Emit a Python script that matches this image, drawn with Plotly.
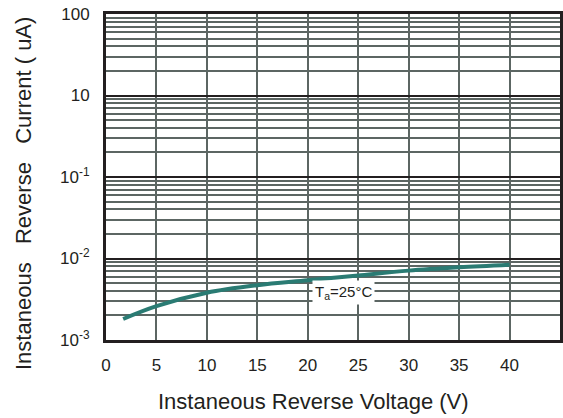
import math
import plotly.graph_objects as go

voltage = [1.7, 5, 10, 15, 20, 25, 30, 35, 40]
current = [1.81e-3, 2.6e-3, 3.8e-3, 4.7e-3, 5.4e-3, 6.2e-3, 7.1e-3, 7.8e-3, 8.4e-3]

x_ticks = [0, 5, 10, 15, 20, 25, 30, 35, 40]
y_tickvals = [1e-3, 1e-2, 1e-1, 1, 10]
y_ticktext = ["10<sup>-3</sup>", "10<sup>-2</sup>", "10<sup>-1</sup>", "10", "100"]
minor_vals = [m * d for d in [1e-3, 1e-2, 1e-1, 1] for m in range(2, 10)]

label_text = "T<sub>a</sub>=25°C"
label_x = 23.5
label_y = 3.85e-3

dark = "#231f20"
gridgray = "#5c6663"
font = "Liberation Sans, Arial, sans-serif"

W, H = 563, 418
L, R, T, B = 106, 3, 14, 78
pw, ph = W - L - R, H - T - B

fig = go.Figure()
fig.add_trace(go.Scatter(
    x=voltage, y=current, mode="lines",
    line=dict(color="#2a7b73", width=4, shape="spline"),
    showlegend=False, hoverinfo="skip",
))

fig.add_annotation(
    x=label_x, y=math.log10(label_y), xref="x", yref="y",
    text=label_text, showarrow=False,
    font=dict(family=font, size=15, color=dark),
    bgcolor="white", borderpad=2,
)
fig.add_annotation(
    xref="paper", yref="paper",
    x=(313 - L) / pw, y=-(401 - (H - B)) / ph,
    xanchor="center", yanchor="middle", showarrow=False,
    text="Instaneous Reverse Voltage (V)",
    font=dict(family=font, size=22, color=dark),
)
fig.add_annotation(
    xref="paper", yref="paper",
    x=-(L - 24) / pw, y=((H - B) - 194) / ph,
    xanchor="center", yanchor="middle", showarrow=False, textangle=-90,
    text="Instaneous   Reverse   Current ( uA)",
    font=dict(family=font, size=22, color=dark),
)

fig.update_layout(
    width=W, height=H,
    margin=dict(l=L, r=R, t=T, b=B),
    paper_bgcolor="white", plot_bgcolor="white",
    font=dict(family=font, size=17, color=dark),
)

fig.update_xaxes(
    range=[0, 45], tickmode="array", tickvals=x_ticks,
    showgrid=True, gridcolor=gridgray, gridwidth=2,
    showline=True, linecolor=dark, linewidth=3, mirror=True,
    ticks="", ticklabelstandoff=8, zeroline=False, automargin=False,
    tickfont=dict(family=font, size=17, color=dark),
)
fig.update_yaxes(
    type="log", range=[-3, 1], tickmode="array",
    tickvals=y_tickvals, ticktext=y_ticktext,
    showgrid=True, gridcolor=dark, gridwidth=2,
    minor=dict(tickmode="array", tickvals=minor_vals, showgrid=True,
               gridcolor=gridgray, gridwidth=1.5, ticks=""),
    showline=True, linecolor=dark, linewidth=3, mirror=True,
    ticks="", ticklabelstandoff=10, zeroline=False, automargin=False,
    tickfont=dict(family=font, size=17, color=dark),
)

fig.write_html(
    "out.html",
    config={"displayModeBar": False},
    post_script="document.body.style.margin='0';document.body.style.overflow='hidden';",
)
